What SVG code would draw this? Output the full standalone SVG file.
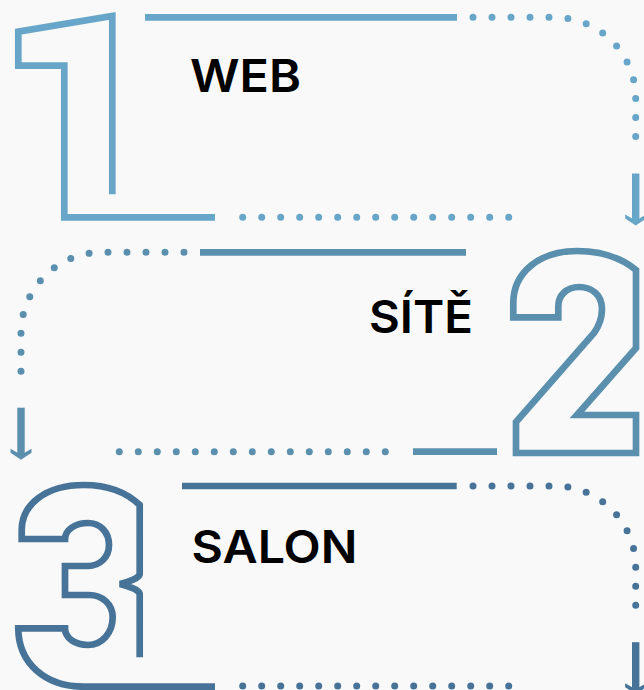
<svg xmlns="http://www.w3.org/2000/svg" xmlns:xlink="http://www.w3.org/1999/xlink" width="644" height="690" viewBox="0 0 644 690">
  <style>
    .bg { fill: #f9f9f9; }
    .num { fill: none; stroke-width: 6.7; stroke-linejoin: miter; stroke-linecap: butt; }
    .solid { fill: none; stroke-width: 6.7; stroke-linecap: butt; }
    .dots { fill: none; stroke-width: 7; stroke-linecap: round; stroke-dasharray: 0 19; }
    .c1 { stroke: #68a6c9; fill: #68a6c9; }
    .c2 { stroke: #5a8fae; fill: #5a8fae; }
    .c3 { stroke: #487399; fill: #487399; }
    .label { font-family: Inter, "Liberation Sans", sans-serif; font-weight: 600; font-size: 45px; fill: #000; }
  </style>
  <defs>
    <g id="arrow">
      <rect x="-3.7" y="-52" width="7.4" height="49" stroke="none"/>
      <path d="M-10.5,-11 L0,-5 L10.5,-11 L10.5,-7 L0,0 L-10.5,-7 Z" stroke="none"/>
    </g>
  </defs>
  <rect class="bg" x="0" y="0" width="644" height="690"/>

  <g id="step1">
    <path class="num c1" style="fill:none" d="M112.3,194.3 V16 L18.3,31.7 V65.7 H64.3 V217.3 H215"/>
    <text class="label" x="190" y="92.3" textLength="111" lengthAdjust="spacingAndGlyphs">WEB</text>
  </g>

  <g id="step2">
    <path class="num c2" style="fill:none" d="M513.3,317.3 V303 C513.3,272 540,251 577,251 C600,251 620,257 636,270 V348 L577,415 H636 V453 H516 V422 L594,333 C599,326 602,318 602,309 C602,295 592,287 579,287 C566,287 558.3,296 558.3,306 V317.3 Z"/>
    <text class="label" x="369" y="333.3" textLength="104" lengthAdjust="spacingAndGlyphs">SÍTĚ</text>
  </g>

  <g id="step3">
    <path class="num c3" style="fill:none" d="M139.7,657.3 V594 C139.7,590 128,586 120,584 C128,582 139.7,578 139.7,574 V505 C125,491 106,485 84,485 C45,485 21.7,505 21.7,530 V539 H65 C65,530 75,523 88,523 C100,523 109,532 109,545 C109,557 100,566 88,566 H65 V595 H89 C102,595 112.7,604 112.7,617 C112.7,633 102,645 88,645 C75,645 65,638 65,628.3 H18.3 C18.3,663 45,686.7 84,686.7 H215"/>
    <text class="label" x="191.5" y="563.3" textLength="166" lengthAdjust="spacingAndGlyphs">SALON</text>
  </g>

  <g id="connectors">
    <!-- section 1 -->
    <line class="solid c1" x1="145" y1="17.3" x2="457" y2="17.3"/>
    <path class="dots c1" style="fill:none" d="M473,17.3 H554.7 A81,81 0 0 1 635.7,98.3 V155.5"/>
    <use xlink:href="#arrow" href="#arrow" class="c1" transform="translate(635.7,225.5)"/>
    <path class="dots c1" style="fill:none" d="M242.7,217.3 H509"/>
    <!-- section 2 -->
    <line class="solid c2" x1="200" y1="252.3" x2="466" y2="252.3"/>
    <path class="dots c2" style="fill:none" d="M184,252.3 H102 A81,81 0 0 0 21,333.3 V390"/>
    <use xlink:href="#arrow" href="#arrow" class="c2" transform="translate(21,459.7)"/>
    <path class="dots c2" style="fill:none" d="M119.3,451.7 H386"/>
    <line class="solid c2" x1="413" y1="451.7" x2="497" y2="451.7"/>
    <!-- section 3 -->
    <line class="solid c3" x1="182" y1="486" x2="456.7" y2="486"/>
    <path class="dots c3" style="fill:none" d="M473,486 H554.7 A81,81 0 0 1 635.7,567 V624"/>
    <use xlink:href="#arrow" href="#arrow" class="c3" transform="translate(635.7,694.2)"/>
    <path class="dots c3" style="fill:none" d="M242.7,686 H509"/>
  </g>
</svg>
